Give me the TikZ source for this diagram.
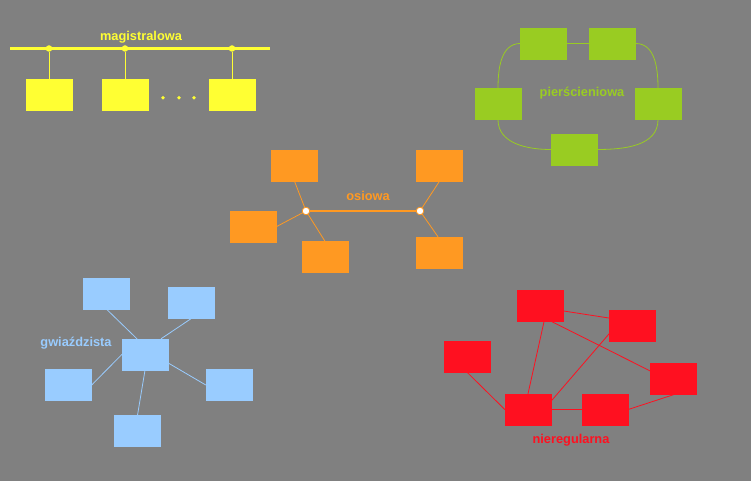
\documentclass[tikz,border=0pt]{standalone}
\usepackage{fontspec}
\setmainfont{Liberation Sans}
\usetikzlibrary{calc}
\definecolor{bg}{HTML}{808080}
\definecolor{cyel}{HTML}{FFFF33}
\definecolor{cgrn}{HTML}{99CC22}
\definecolor{cora}{HTML}{FF9922}
\definecolor{cblu}{HTML}{99CCFF}
\definecolor{cred}{HTML}{FF1020}
\begin{document}
\begin{tikzpicture}[x=1pt,y=-1pt,
  box/.style={rectangle,inner sep=0pt,minimum width=46pt,minimum height=31pt,fill=#1,draw=#1},
  lbl/.style={text=#1,font=\fontsize{12.8}{15}\selectfont\bfseries,inner sep=0pt},
  link/.style={draw=#1,line width=0.8pt},
  busdot/.style={circle,fill=cyel,inner sep=0pt,minimum size=6.5pt},
  smalldot/.style={circle,fill=cyel,inner sep=0pt,minimum size=3.8pt},
  junction/.style={circle,fill=white,draw=cora,line width=0.8pt,inner sep=0pt,minimum size=7.5pt}]
\fill[bg] (0,0) rectangle (751,481);
\useasboundingbox (0,0) rectangle (751,481);

% magistralowa (bus)
\coordinate (bs) at (10,48.5);
\coordinate (be) at (270,48.5);
\draw[cyel,line width=2.6pt] (bs) -- (be);
\node[busdot] (d1) at (49,48.5) {};
\node[busdot] (d2) at (125,48.5) {};
\node[busdot] (d3) at (232,48.5) {};
\node[box=cyel] (y1) at (49,94.5) {};
\node[box=cyel] (y2) at (125,94.5) {};
\node[box=cyel] (y3) at (232,94.5) {};
\draw[link=cyel] (d1) -- (y1.north);
\draw[link=cyel] (d2) -- (y2.north);
\draw[link=cyel] (d3) -- (y3.north);
\node[smalldot] (e1) at (163,97.7) {};
\node[smalldot] (e2) at (179,97.7) {};
\node[smalldot] (e3) at (194,97.7) {};
\node[lbl=cyel] (tmag) at (141,37) {magistralowa};

% pierscieniowa (ring)
\node[box=cgrn] (gtl) at (543.5,43.5) {};
\node[box=cgrn] (gtr) at (612.5,43.5) {};
\node[box=cgrn] (gl) at (498,104) {};
\node[box=cgrn] (gr) at (658,104) {};
\node[box=cgrn] (gb) at (574,149.5) {};
\draw[link=cgrn] (gtl.east) -- (gtr.west);
\draw[link=cgrn] (gtr.east) to[out=0,in=90] (gr.north);
\draw[link=cgrn] (gtl.west) to[out=180,in=90] (gl.north);
\draw[link=cgrn] (gl.south) to[out=-90,in=180] (gb.west);
\draw[link=cgrn] (gr.south) to[out=-90,in=0] (gb.east);
\node[lbl=cgrn] (tring) at (582,93) {pierścieniowa};

% osiowa
\node[box=cora] (otl) at (294.5,165.5) {};
\node[box=cora] (ol) at (253.5,226.5) {};
\node[box=cora] (obm) at (325,257) {};
\node[box=cora] (otr) at (439.5,165.5) {};
\node[box=cora] (obr) at (439.5,252.5) {};
\coordinate (j1c) at (306,211);
\coordinate (j2c) at (420,211);
\draw[link=cora] (j1c) -- (otl.south);
\draw[link=cora] (j1c) -- (ol.east);
\draw[link=cora] (j1c) -- (obm.north);
\draw[link=cora] (j2c) -- (otr.south);
\draw[link=cora] (j2c) -- ($(obr.north)+(-1.5,0)$);
\draw[cora,line width=2.2pt] (j1c) -- (j2c);
\node[junction] (j1) at (j1c) {};
\node[junction] (j2) at (j2c) {};
\node[lbl=cora] (tosi) at (368,196) {osiowa};

% gwiazdzista (star)
\node[box=cblu] (sc) at (145,354.5) {};
\node[box=cblu] (stl) at (106.5,293.5) {};
\node[box=cblu] (str) at (191,303) {};
\node[box=cblu] (sl) at (68.5,385) {};
\node[box=cblu] (sr) at (229,385) {};
\node[box=cblu] (sb) at (137.5,431) {};
\draw[link=cblu] (stl.south) -- ($(sc.north)+(-8,0)$);
\draw[link=cblu] (str.south) -- ($(sc.north)+(16,0)$);
\draw[link=cblu] (sl.east) -- (sc.west);
\draw[link=cblu] (sr.west) -- ($(sc.east)+(0,8.5)$);
\draw[link=cblu] (sb.north) -- (sc.south);
\node[lbl=cblu] (tstar) at (76,343) {gwiaździsta};

% nieregularna
\node[box=cred] (ra) at (540.5,306) {};
\node[box=cred] (rb) at (632,325.5) {};
\node[box=cred] (rc) at (467,356.5) {};
\node[box=cred] (rd) at (673.5,379) {};
\node[box=cred] (re) at (528,409.5) {};
\node[box=cred] (rf) at (605,409.5) {};
\draw[link=cred] ($(ra.east)+(0,5)$) -- ($(rb.west)+(0,-7.5)$);
\draw[link=cred] ($(ra.south)+(3.5,0)$) -- (re.north);
\draw[link=cred] ($(ra.south)+(11.5,0)$) -- ($(rd.west)+(0,-8)$);
\draw[link=cred] ($(rb.west)+(1,7.5)$) -- ($(re.east)+(0,-8.5)$);
\draw[link=cred] (rc.south) -- (re.west);
\draw[link=cred] (re.east) -- (rf.west);
\draw[link=cred] (rf.east) -- (rd.south);
\node[lbl=cred] (tirr) at (571,440) {nieregularna};
\end{tikzpicture}
\end{document}
